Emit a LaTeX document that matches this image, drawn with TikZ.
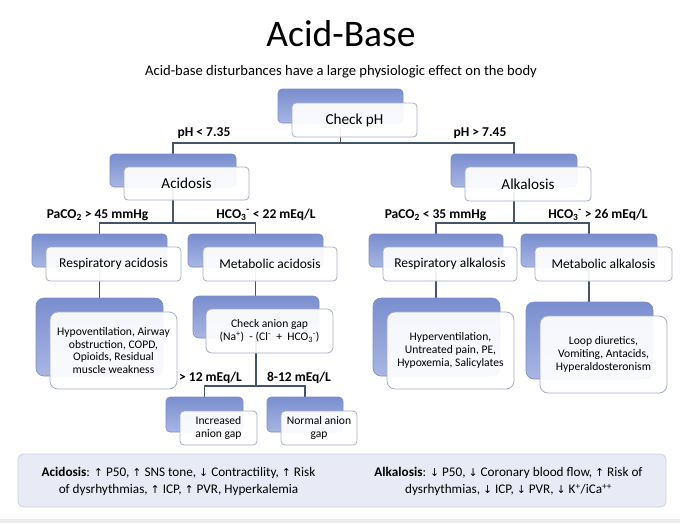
\documentclass[tikz,border=0pt]{standalone}
\usepackage{fontspec}
\setmainfont{Carlito}
\newfontfamily\arrfont[Scale=0.82]{DejaVu Sans}
\newcommand\arrUp{{\arrfont ↑}}
\newcommand\arrDn{{\arrfont ↓}}
\usetikzlibrary{backgrounds}
\definecolor{linec}{HTML}{44546A}
\definecolor{bluetop}{HTML}{7A8ECF}
\definecolor{bluebot}{HTML}{A8B6E3}
\definecolor{blueedge}{HTML}{7F8FC4}
\definecolor{frontedge}{HTML}{A4AEC6}
\definecolor{botfill}{HTML}{E8EBF5}
\definecolor{botedge}{HTML}{CDD2E1}
\begin{document}
\begin{tikzpicture}[x=1pt,y=-1pt,
  backbox/.style={draw=blueedge, line width=0.6pt, rounded corners=4pt, top color=bluetop, bottom color=bluebot, inner sep=0pt, outer sep=0pt},
  frontbox/.style={draw=frontedge, line width=0.8pt, rounded corners=4pt, fill=white, fill opacity=0.93, text opacity=1, inner sep=0pt, outer sep=0pt, align=center},
  bigback/.style={backbox, rounded corners=8pt},
  bigfront/.style={frontbox, rounded corners=8pt},
  ftA/.style={font=\fontsize{15.2}{18}\selectfont},
  ftB/.style={font=\fontsize{13.5}{16}\selectfont},
  ftC/.style={font=\fontsize{11.6}{12.8}\selectfont},
  lbl/.style={font=\bfseries\fontsize{13.5}{16}\selectfont, inner sep=0pt, anchor=base},
  conn/.style={draw=linec, line width=1.1pt}
]
\useasboundingbox (0,0) rectangle (680,523);
\fill[black!8] (0,519) rectangle (680,523);

% title
\node[font=\fontsize{37.5}{40}\selectfont, inner sep=0pt, anchor=base] (title) at (341,46.5) {Acid-Base};
\node[font=\fontsize{14.6}{17}\selectfont, inner sep=0pt, anchor=base] (subtitle) at (341,75.5) {Acid-base disturbances have a large physiologic effect on the body};

% level 1
\node[backbox, minimum width=125, minimum height=34] (phB) at (340.5,106) {};
\node[frontbox, ftA, minimum width=125, minimum height=34] (ph) at (354.5,120) {Check pH};

% level 2
\node[backbox, minimum width=126, minimum height=33] (acB) at (173,170.5) {};
\node[frontbox, ftA, minimum width=125, minimum height=33] (ac) at (186.5,183.5) {Acidosis};
\node[backbox, minimum width=126, minimum height=33] (alB) at (514,170.5) {};
\node[frontbox, ftA, minimum width=126, minimum height=34] (al) at (528,184) {Alkalosis};

% level 3
\node[backbox, minimum width=135, minimum height=33] (raB) at (99.5,250.5) {};
\node[frontbox, ftB, minimum width=135, minimum height=34] (ra) at (113.5,264) {Respiratory acidosis};
\node[backbox, minimum width=135, minimum height=33] (maB) at (255.5,250.5) {};
\node[frontbox, ftB, minimum width=134, minimum height=34] (ma) at (270,264) {Metabolic acidosis};
\node[backbox, minimum width=134, minimum height=33] (rlB) at (436,250.5) {};
\node[frontbox, ftB, minimum width=134, minimum height=34] (rl) at (450,264) {Respiratory alkalosis};
\node[backbox, minimum width=136, minimum height=33] (mlB) at (589,250.5) {};
\node[frontbox, ftB, minimum width=137, minimum height=34] (ml) at (603.5,264) {Metabolic alkalosis};

% level 4
\node[bigback, minimum width=127, minimum height=78] (hvB) at (99.5,337) {};
\node[bigfront, ftC, minimum width=127, minimum height=77] (hv) at (113.5,350.5) {Hypoventilation, Airway\\obstruction, COPD,\\Opioids, Residual\\muscle weakness};
\node[backbox, rounded corners=6pt, minimum width=126, minimum height=42] (cagB) at (256,317) {};
\node[frontbox, rounded corners=6pt, ftC, minimum width=127, minimum height=44] (cag) at (269.5,331) {Check anion gap\\(Na\textsuperscript{+})~~- (Cl\textsuperscript{-}~~+~~HCO\textsubscript{3}\textsuperscript{-})};
\node[bigback, minimum width=127, minimum height=78] (hyB) at (436.5,337) {};
\node[bigfront, ftC, minimum width=127, minimum height=77] (hy) at (450.5,350.5) {Hyperventilation,\\Untreated pain, PE,\\Hypoxemia, Salicylates};
\node[bigback, minimum width=127, minimum height=77] (lpB) at (589.5,340.5) {};
\node[bigfront, ftC, minimum width=127, minimum height=77] (lp) at (603.5,354.5) {Loop diuretics,\\Vomiting, Antacids,\\Hyperaldosteronism};

% level 5
\node[backbox, minimum width=77, minimum height=35] (incB) at (204.5,414.5) {};
\node[frontbox, ftC, minimum width=77, minimum height=34] (inc) at (218.5,428) {Increased\\anion gap};
\node[backbox, minimum width=76, minimum height=35] (norB) at (305,414.5) {};
\node[frontbox, ftC, minimum width=76, minimum height=34] (nor) at (319,428) {Normal anion\\gap};

% connectors
\coordinate (j1) at (340.5,143);
\coordinate (j2) at (173,223);
\coordinate (j3) at (514,223);
\coordinate (j4) at (256,386);
\begin{scope}[on background layer]
\draw[conn] (phB.south) -- (j1);
\draw[conn] (acB.north) |- (j1) -| (alB.north);
\draw[conn] (acB.south) -- (j2);
\draw[conn] (raB.north) |- (j2) -| (maB.north);
\draw[conn] (alB.south) -- (j3);
\draw[conn] (rlB.north) |- (j3) -| (mlB.north);
\draw[conn] (raB.south) -- (hvB.north);
\draw[conn] (maB.south) -- (maB.south |- cagB.north);
\draw[conn] (rlB.south) -- (rlB.south |- hyB.north);
\draw[conn] (mlB.south) -- (mlB.south |- lpB.north);
\draw[conn] (cagB.south) -- (j4);
\draw[conn] (incB.north) |- (j4) -| (norB.north);
\end{scope}

% labels
\node[lbl] (l1) at (204,136.5) {pH < 7.35};
\node[lbl] (l2) at (480,136.5) {pH > 7.45};
\node[lbl] (l3) at (97.5,218) {PaCO\textsubscript{2} > 45 mmHg};
\node[lbl] (l4) at (266,218) {HCO\textsubscript{3}\textsuperscript{-} < 22 mEq/L};
\node[lbl] (l5) at (435.5,218) {PaCO\textsubscript{2} < 35 mmHg};
\node[lbl] (l6) at (598,218) {HCO\textsubscript{3}\textsuperscript{-} > 26 mEq/L};
\node[lbl] (l7) at (210.5,381) {> 12 mEq/L};
\node[lbl] (l8) at (299,381) {8-12 mEq/L};

% bottom summary
\node[draw=botedge, fill=botfill, line width=0.8pt, rounded corners=6pt, minimum width=648, minimum height=53, inner sep=0pt] (bot) at (342,480.5) {};
\node[font=\fontsize{13.2}{17}\selectfont, align=center, inner sep=0pt] (acTxt) at (178.5,481.5) {\textbf{Acidosis}: \arrUp{} P50, \arrUp{} SNS tone, \arrDn{} Contractility, \arrUp{} Risk\\of dysrhythmias, \arrUp{} ICP, \arrUp{} PVR, Hyperkalemia};
\node[font=\fontsize{13.2}{17}\selectfont, align=center, inner sep=0pt] (alTxt) at (508.5,481.5) {\textbf{Alkalosis}: \arrDn{} P50, \arrDn{} Coronary blood flow, \arrUp{} Risk of\\dysrhythmias, \arrDn{} ICP, \arrDn{} PVR, \arrDn{} K\textsuperscript{+}/iCa\textsuperscript{++}};
\end{tikzpicture}
\end{document}
